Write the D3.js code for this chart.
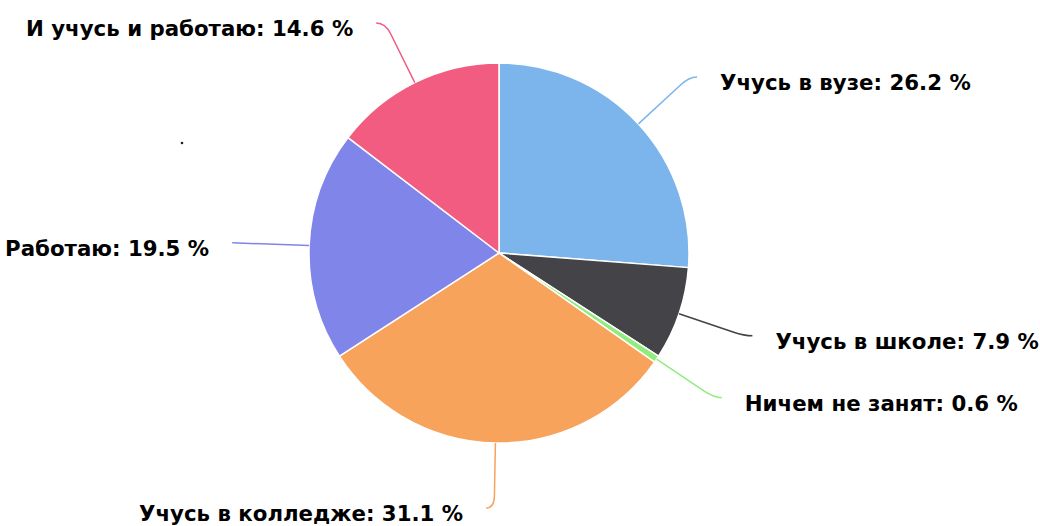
<!DOCTYPE html>
<html>
<head>
<meta charset="utf-8">
<script src="https://cdn.jsdelivr.net/npm/d3@7"></script>
<style>
  body { margin: 0; background: #fff; }
  text { font-family: "DejaVu Sans", sans-serif; font-weight: bold; fill: #000; }
</style>
</head>
<body>
<script>
// categories and shares, clockwise from 12 o'clock
let categories = ["Учусь в вузе", "Учусь в школе", "Ничем не занят", "Учусь в колледже", "Работаю", "И учусь и работаю"]
let shares = [26.2, 7.9, 0.6, 31.1, 19.5, 14.6]
let colors = ["#7cb5ec", "#434348", "#90ed7d", "#f7a35c", "#8085e9", "#f15c80"]

let width = 1040
let height = 526
let cx = 499, cy = 253
let radius = 190
let labelRadius = 259

let data = categories.map((c, i) => ({name: c, value: shares[i], color: colors[i]}))

let svg = d3.select("body")
    .append("svg")
    .attr("width", width)
    .attr("height", height)

let g = svg.append("g")
    .attr("transform", `translate(${cx},${cy})`)

let pie = d3.pie()
    .value(d => d.value)
    .sort(null)

let arc = d3.arc()
    .innerRadius(0)
    .outerRadius(radius)

let arcs = pie(data)

g.selectAll("path.slice")
    .data(arcs)
    .enter()
    .append("path")
    .attr("class", "slice")
    .attr("d", arc)
    .attr("fill", d => d.data.color)
    .attr("stroke", "#fff")
    .attr("stroke-width", 1.5)
    .attr("stroke-linejoin", "round")

function mid(d) { return (d.startAngle + d.endAngle) / 2 }
function side(d) { return Math.sin(mid(d)) >= 0 ? 1 : -1 }
// label y, kept inside the frame
function labelY(d) {
    let y = -labelRadius * Math.cos(mid(d))
    return Math.max(-(cy - 23), Math.min(height - cy - 18, y))
}

function connector(d) {
    let a = mid(d)
    let sx = Math.sin(a), sy = -Math.cos(a)
    let A = [radius * sx, radius * sy]
    let ly = labelY(d)
    let lx = labelRadius * sx + side(d) * 8
    // corner where the radial line meets the label's horizontal
    if (Math.abs(sy) < 0.1) {
        return `M${A[0]},${A[1]}L${lx},${ly}`
    }
    let t = ly / sy
    let K = [t * sx, ly]
    let dx = A[0] - K[0], dy = A[1] - K[1]
    let len = Math.hypot(dx, dy)
    let rr = Math.min(12, len * 0.5)
    let P = [K[0] + dx / len * rr, K[1] + dy / len * rr]
    let hx = lx - K[0]
    let Q = [K[0] + Math.sign(hx) * Math.min(rr, Math.abs(hx)), ly]
    return `M${A[0]},${A[1]}L${P[0]},${P[1]}Q${K[0]},${K[1]} ${Q[0]},${Q[1]}L${lx},${ly}`
}

g.selectAll("path.connector")
    .data(arcs)
    .enter()
    .append("path")
    .attr("class", "connector")
    .attr("d", connector)
    .attr("fill", "none")
    .attr("stroke", d => d.data.color)
    .attr("stroke-width", 1.5)

g.selectAll("text.label")
    .data(arcs)
    .enter()
    .append("text")
    .attr("class", "label")
    .attr("x", d => labelRadius * Math.sin(mid(d)) + side(d) * 31)
    .attr("y", d => labelY(d) + 13)
    .attr("text-anchor", d => side(d) > 0 ? "start" : "end")
    .style("font-size", "21.3px")
    .text(d => `${d.data.name}: ${d.data.value} %`)

// stray speck in the source image
svg.append("circle")
    .attr("cx", 182)
    .attr("cy", 143)
    .attr("r", 1.3)
    .attr("fill", "#222")
</script>
</body>
</html>
